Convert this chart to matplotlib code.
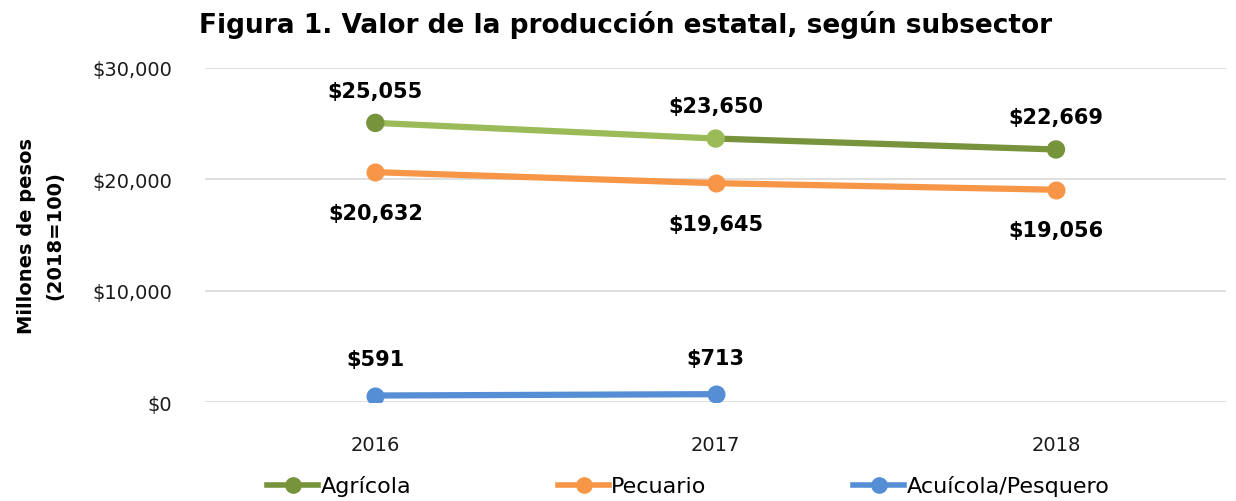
import matplotlib.pyplot as plt
from matplotlib.lines import Line2D

years = ["2016", "2017", "2018"]
agricola = [25055, 23650, 22669]
pecuario = [20632, 19645, 19056]
acuicola = [591, 713]

dark_green = "#77933C"
light_green = "#9BBB59"
orange = "#F79646"
blue = "#558ED5"

plt.rcParams["font.family"] = ["DejaVu Sans"]

fig = plt.figure(figsize=(12.36, 5.02), dpi=100)
ax = fig.add_axes([0.166, 0.197, 0.826, 0.666])

x = list(range(len(years)))

# Agrícola: first segment and 2017 point in light green, rest dark
ax.plot(x[0:2], agricola[0:2], color=light_green, lw=4.5, solid_capstyle="butt", zorder=3)
ax.plot(x[1:3], agricola[1:3], color=dark_green, lw=4.5, solid_capstyle="butt", zorder=3)
ax.scatter(x, agricola, s=150, color=[dark_green, light_green, dark_green], zorder=4)

ax.plot(x, pecuario, color=orange, lw=4.5, marker="o", ms=12, zorder=3)
ax.plot(x[:2], acuicola, color=blue, lw=4.5, marker="o", ms=12, zorder=3)

lbl = dict(ha="center", fontsize=15, fontweight="bold", color="black")
for xi, v in zip(x, agricola):
    ax.annotate(f"${v:,}", (xi, v), xytext=(0, 16), textcoords="offset points", va="bottom", **lbl)
for xi, v in zip(x, pecuario):
    ax.annotate(f"${v:,}", (xi, v), xytext=(0, -22), textcoords="offset points", va="top", **lbl)
for xi, v in zip(x, acuicola):
    ax.annotate(f"${v:,}", (xi, v), xytext=(0, 19), textcoords="offset points", va="bottom", **lbl)

ax.set_xlim(-0.5, 2.5)
ax.set_ylim(0, 30000)
ax.set_yticks([0, 10000, 20000, 30000])
ax.set_yticklabels(["$0", "$10,000", "$20,000", "$30,000"])
ax.set_xticks(x)
ax.set_xticklabels(years)
ax.tick_params(axis="both", length=0, labelsize=14, colors="#1a1a1a")
ax.tick_params(axis="y", pad=24)
ax.tick_params(axis="x", pad=24)
ax.grid(axis="y", color="#D9D9D9", lw=1.2)
ax.set_axisbelow(True)
for s in ax.spines.values():
    s.set_visible(False)

ax.set_ylabel("Millones de pesos\n(2018=100)", fontsize=14, fontweight="bold",
              labelpad=20, linespacing=1.6)

fig.text(0.506, 0.95, "Figura 1. Valor de la producción estatal, según subsector",
         ha="center", va="center", fontsize=19, fontweight="bold")

handles = [
    Line2D([], [], color=dark_green, lw=4, marker="o", ms=11),
    Line2D([], [], color=orange, lw=4, marker="o", ms=11),
    Line2D([], [], color=blue, lw=4, marker="o", ms=11),
]
fig.legend(handles, ["Agrícola", "Pecuario", "Acuícola/Pesquero"], loc="center",
           bbox_to_anchor=(0.557, 0.03), ncol=3, frameon=False, fontsize=16,
           handlelength=2.3, handletextpad=0.1, columnspacing=6.6)

plt.savefig("out.png")
